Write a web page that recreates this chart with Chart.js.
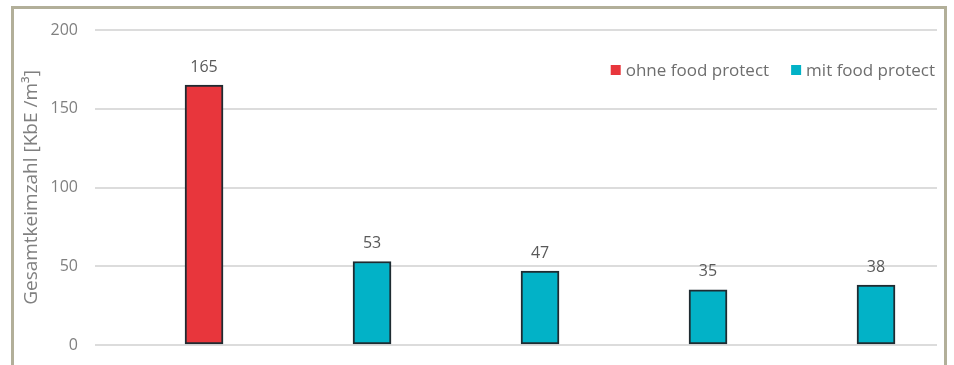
<!DOCTYPE html>
<html>
<head>
<meta charset="utf-8">
<script src="https://cdn.jsdelivr.net/npm/chart.js@4"></script>
<style>
  html, body { margin: 0; padding: 0; background: #fff; }
  #wrap { position: relative; width: 954px; height: 365px; overflow: hidden; }
  #frame {
    position: absolute; left: 11px; top: 6px; width: 930px; height: 420px;
    border: 3px solid #b2af99; pointer-events: none;
  }
</style>
</head>
<body>
<div id="wrap">
  <canvas id="chart" width="954" height="365"></canvas>
  <div id="frame"></div>
</div>
<script>
// Werte je Messung
const messungen = [1, 2, 3, 4, 5];
const ohneFoodProtect = [165, null, null, null, null];
const mitFoodProtect = [null, 53, 47, 35, 38];
const serienNamen = ["ohne food protect", "mit food protect"];
const yTicks = [0, 50, 100, 150, 200];

const FONT = "'Open Sans', sans-serif";

function punkte(werte) {
    return messungen
        .map((m, i) => ({ x: m, y: werte[i] }))
        .filter(p => p.y !== null);
}

// Wert über jedem Balken
const wertLabels = {
    id: "wertLabels",
    afterDatasetsDraw(chart) {
        const ctx = chart.ctx;
        ctx.save();
        ctx.font = "16px " + FONT;
        ctx.fillStyle = "#595959";
        ctx.textAlign = "center";
        ctx.textBaseline = "bottom";
        chart.data.datasets.forEach((ds, di) => {
            chart.getDatasetMeta(di).data.forEach((bar, i) => {
                ctx.fillText(String(ds.data[i].y), bar.x, bar.y - 10);
            });
        });
        ctx.restore();
    }
};

// Legende oben rechts im Diagramm
const legende = {
    id: "legende",
    afterDraw(chart) {
        const ctx = chart.ctx;
        const area = chart.chartArea;
        ctx.save();
        ctx.font = "17px " + FONT;
        ctx.textBaseline = "middle";
        const box = 10, gap = 5, abstand = 22;
        const items = chart.data.datasets.map(ds => ({
            text: ds.label,
            color: ds.backgroundColor,
            w: box + gap + ctx.measureText(ds.label).width
        }));
        const total = items.reduce((s, it) => s + it.w, 0) + abstand * (items.length - 1);
        let x = area.right - 2 - total;
        const y = 70;
        items.forEach(it => {
            ctx.fillStyle = it.color;
            ctx.fillRect(x, y - box / 2, box, box);
            ctx.fillStyle = "#6e6e6e";
            ctx.fillText(it.text, x + box + gap, y + 1);
            x += it.w + abstand;
        });
        ctx.restore();
    }
};

new Chart(document.getElementById("chart"), {
    type: "bar",
    data: {
        datasets: [
            {
                label: serienNamen[0],
                data: punkte(ohneFoodProtect),
                backgroundColor: "#e8363c",
                borderColor: "#1f2b31",
                borderWidth: 2,
                borderSkipped: false,
                barThickness: 38
            },
            {
                label: serienNamen[1],
                data: punkte(mitFoodProtect),
                backgroundColor: "#02b2c7",
                borderColor: "#1f2b31",
                borderWidth: 2,
                borderSkipped: false,
                barThickness: 38
            }
        ]
    },
    options: {
        responsive: false,
        animation: false,
        grouped: false,
        layout: { padding: { top: 30, right: 17, bottom: 20, left: 0 } },
        plugins: {
            legend: { display: false },
            tooltip: { enabled: false }
        },
        scales: {
            x: {
                type: "linear",
                display: false,
                offset: false,
                min: 0.351,
                max: 5.363
            },
            y: {
                min: 0,
                max: 200,
                afterFit(scale) {
                    scale.width = 95;
                    scale.paddingTop = 0;
                    scale.paddingBottom = 0;
                },
                afterBuildTicks(scale) { scale.ticks = yTicks.map(v => ({ value: v })); },
                border: { display: false },
                grid: { color: "#dcdcdc", lineWidth: 2, drawTicks: false },
                ticks: {
                    color: "#808080",
                    font: { family: FONT, size: 16 },
                    padding: 17
                },
                title: {
                    display: true,
                    text: "Gesamtkeimzahl [KbE /m³]",
                    color: "#808080",
                    font: { family: FONT, size: 19 },
                    padding: { top: 20, bottom: 0 }
                }
            }
        }
    },
    plugins: [wertLabels, legende]
});
</script>
</body>
</html>
